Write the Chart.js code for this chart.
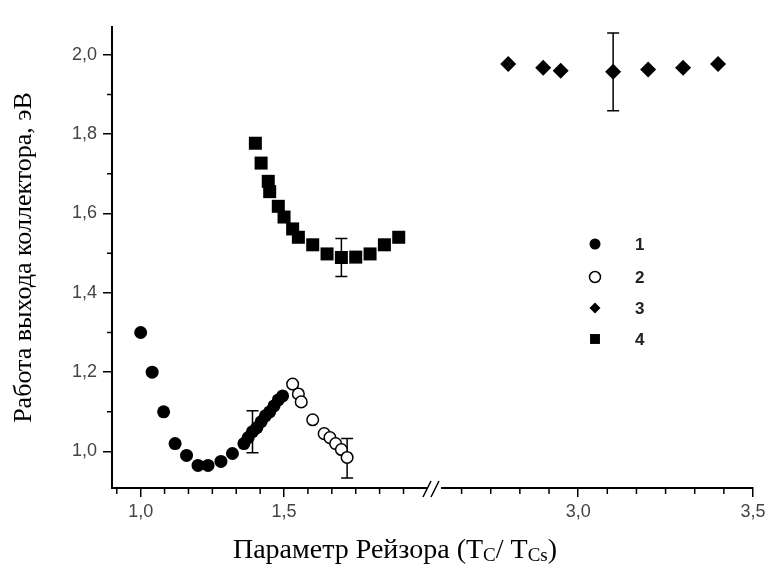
<!DOCTYPE html>
<html>
<head>
<meta charset="utf-8">
<script src="https://cdn.jsdelivr.net/npm/chart.js@4.4.1/dist/chart.umd.min.js"></script>
<style>
  html, body { margin: 0; padding: 0; background: #fff; }
  #wrap { width: 771px; height: 564px; }
</style>
</head>
<body>
<div id="wrap"><canvas id="workChart" width="771" height="564"></canvas></div>
<script>
// 1 - filled circles
const s1X = [1.00, 1.04, 1.08, 1.12, 1.16, 1.20, 1.235, 1.28, 1.32, 1.36, 1.375, 1.39, 1.405, 1.42, 1.435, 1.45, 1.465, 1.48, 1.495];
const s1Y = [1.30, 1.20, 1.10, 1.02, 0.99, 0.965, 0.965, 0.975, 0.995, 1.02, 1.035, 1.05, 1.06, 1.075, 1.09, 1.10, 1.115, 1.13, 1.14];
// 2 - open circles
const s2X = [1.53, 1.55, 1.56, 1.60, 1.64, 1.66, 1.68, 1.70, 1.72];
const s2Y = [1.17, 1.145, 1.125, 1.08, 1.045, 1.035, 1.02, 1.005, 0.985];
// 3 - diamonds (right part of the axis)
const s3X = [2.80, 2.90, 2.95, 3.10, 3.20, 3.30, 3.40];
const s3Y = [1.977, 1.967, 1.96, 1.957, 1.963, 1.967, 1.977];
// 4 - squares
const s4X = [1.40, 1.42, 1.445, 1.45, 1.48, 1.50, 1.53, 1.55, 1.60, 1.65, 1.70, 1.75, 1.80, 1.85, 1.90];
const s4Y = [1.777, 1.727, 1.681, 1.655, 1.618, 1.591, 1.561, 1.540, 1.521, 1.498, 1.489, 1.490, 1.498, 1.521, 1.540];

// error bars: dataset index, x, y, half size
const errSeries = [0, 1, 2, 3];
const errX = [1.39, 1.72, 3.10, 1.70];
const errY = [1.05, 0.983, 1.957, 1.489];
const errSize = [0.053, 0.05, 0.098, 0.048];

const seriesLabels = ['1', '2', '3', '4'];

const yMajor = [1.0, 1.2, 1.4, 1.6, 1.8, 2.0];
const yMinor = [1.1, 1.3, 1.5, 1.7, 1.9];
const xLeftMajor = [1.0, 1.5];
const xLeftMinor = [0.9167, 1.0833, 1.1667, 1.25, 1.3333, 1.4167, 1.5833, 1.6667, 1.75, 1.8333, 1.9167];
const xRightMajor = [3.0, 3.5];
const xRightMinor = [2.6667, 2.75, 2.8333, 2.9167, 3.0833, 3.1667, 3.25, 3.3333, 3.4167];

const toPoints = (xs, ys) => xs.map((x, i) => ({ x: x, y: ys[i] }));
const comma = v => Number(v).toFixed(1).replace('.', ',');

const tickFont = { family: 'Liberation Sans', size: 18 };

const errorBarPlugin = {
    id: 'errorBars',
    beforeDatasetsDraw(chart) {
        const ctx = chart.ctx;
        ctx.save();
        ctx.strokeStyle = '#000';
        ctx.lineWidth = 1.5;
        errSeries.forEach((di, i) => {
            const ds = chart.data.datasets[di];
            const xs = chart.scales[ds.xAxisID];
            const ys = chart.scales.y;
            const px = xs.getPixelForValue(errX[i]);
            const top = ys.getPixelForValue(errY[i] + errSize[i]);
            const bot = ys.getPixelForValue(errY[i] - errSize[i]);
            ctx.beginPath();
            ctx.moveTo(px, top); ctx.lineTo(px, bot);
            ctx.moveTo(px - 6, top); ctx.lineTo(px + 6, top);
            ctx.moveTo(px - 6, bot); ctx.lineTo(px + 6, bot);
            ctx.stroke();
        });
        ctx.restore();
    }
};

const decorPlugin = {
    id: 'decor',
    afterDraw(chart) {
        const ctx = chart.ctx;
        const area = chart.chartArea;
        const sx1 = chart.scales.x1, sx2 = chart.scales.x2, sy = chart.scales.y;
        ctx.save();
        ctx.strokeStyle = '#000';
        ctx.lineWidth = 1.5;
        // minor ticks
        ctx.beginPath();
        yMinor.forEach(v => {
            const p = sy.getPixelForValue(v);
            ctx.moveTo(area.left - 5, p); ctx.lineTo(area.left, p);
        });
        xLeftMinor.forEach(v => {
            const p = sx1.getPixelForValue(v);
            ctx.moveTo(p, area.bottom); ctx.lineTo(p, area.bottom + 6);
        });
        xRightMinor.forEach(v => {
            const p = sx2.getPixelForValue(v);
            ctx.moveTo(p, area.bottom); ctx.lineTo(p, area.bottom + 6);
        });
        ctx.stroke();

        // axis break
        const bx = sx2.left;
        ctx.fillStyle = '#fff';
        ctx.fillRect(bx - 8, area.bottom - 3, 14, 6);
        ctx.beginPath();
        ctx.moveTo(bx - 12, area.bottom + 9); ctx.lineTo(bx - 4, area.bottom - 7);
        ctx.moveTo(bx - 4, area.bottom + 9); ctx.lineTo(bx + 4, area.bottom - 7);
        ctx.stroke();

        // x axis title with subscripts
        const parts = [['Параметр Рейзора (T', 0], ['C', 1], ['/ T', 0], ['Cs', 1], [')', 0]];
        const big = '28px "Liberation Serif"', small = '19px "Liberation Serif"';
        let total = 0;
        parts.forEach(p => { ctx.font = p[1] ? small : big; total += ctx.measureText(p[0]).width; });
        let tx = 395 - total / 2;
        const base = 558;
        ctx.fillStyle = '#000';
        ctx.textBaseline = 'alphabetic';
        ctx.textAlign = 'left';
        parts.forEach(p => {
            ctx.font = p[1] ? small : big;
            ctx.fillText(p[0], tx, base + (p[1] ? 3 : 0));
            tx += ctx.measureText(p[0]).width;
        });

        // legend
        const rows = [244, 277, 308, 339];
        chart.data.datasets.forEach((ds, i) => {
            const opts = {
                pointStyle: ds.pointStyle,
                radius: ds.pointStyle === 'rect' ? 7 : 5.5,
                rotation: 0,
                borderWidth: ds.borderWidth
            };
            ctx.fillStyle = ds.backgroundColor;
            ctx.strokeStyle = ds.borderColor;
            ctx.lineWidth = ds.borderWidth;
            Chart.helpers.drawPoint(ctx, opts, 595, rows[i]);
            ctx.fillStyle = '#222';
            ctx.font = 'bold 17px "Liberation Sans"';
            ctx.textBaseline = 'middle';
            ctx.fillText(ds.label, 635, rows[i] + 1);
        });
        ctx.restore();
    }
};

const config = {
    type: 'scatter',
    data: {
        datasets: [
            {
                label: seriesLabels[0], data: toPoints(s1X, s1Y), xAxisID: 'x1', order: 2,
                pointStyle: 'circle', pointRadius: 6.5, backgroundColor: '#000', borderColor: '#000', borderWidth: 0
            },
            {
                label: seriesLabels[1], data: toPoints(s2X, s2Y), xAxisID: 'x1', order: 1,
                pointStyle: 'circle', pointRadius: 5.8, backgroundColor: '#fff', borderColor: '#000', borderWidth: 1.5
            },
            {
                label: seriesLabels[2], data: toPoints(s3X, s3Y), xAxisID: 'x2', order: 3,
                pointStyle: 'rectRot', pointRadius: 8, backgroundColor: '#000', borderColor: '#000', borderWidth: 0
            },
            {
                label: seriesLabels[3], data: toPoints(s4X, s4Y), xAxisID: 'x1', order: 4,
                pointStyle: 'rect', pointRadius: 9.2, backgroundColor: '#000', borderColor: '#000', borderWidth: 0
            }
        ]
    },
    options: {
        responsive: false,
        animation: false,
        events: [],
        layout: { padding: { top: 27, right: 18, bottom: 36, left: 0 } },
        plugins: {
            legend: { display: false },
            tooltip: { enabled: false }
        },
        scales: {
            x1: {
                type: 'linear', position: 'bottom', stack: 'xb', stackWeight: 323,
                min: 0.9, max: 2.0265,
                afterBuildTicks: s => { s.ticks = xLeftMajor.map(v => ({ value: v })); },
                afterFit: s => { s.height = 40; },
                grid: { drawOnChartArea: false, tickLength: 9, color: '#000', lineWidth: 1.5 },
                border: { color: '#000', width: 2 },
                ticks: { callback: v => comma(v), color: '#444', font: tickFont, padding: 4, maxRotation: 0, autoSkip: false }
            },
            x2: {
                type: 'linear', position: 'bottom', stack: 'xb', stackWeight: 318,
                min: 2.5906, max: 3.5,
                afterBuildTicks: s => { s.ticks = xRightMajor.map(v => ({ value: v })); },
                afterFit: s => { s.height = 40; },
                grid: { drawOnChartArea: false, tickLength: 9, color: '#000', lineWidth: 1.5 },
                border: { color: '#000', width: 2 },
                ticks: { callback: v => comma(v), color: '#444', font: tickFont, padding: 4, maxRotation: 0, autoSkip: false }
            },
            y: {
                type: 'linear', position: 'left',
                min: 0.908, max: 2.07,
                afterBuildTicks: s => { s.ticks = yMajor.map(v => ({ value: v })); },
                afterFit: s => { s.width = 112; },
                grid: { drawOnChartArea: false, tickLength: 9, color: '#000', lineWidth: 1.5 },
                border: { color: '#000', width: 2 },
                ticks: { callback: v => comma(v), color: '#444', font: tickFont, padding: 6 },
                title: {
                    display: true,
                    text: 'Работа выхода коллектора, эВ',
                    color: '#000',
                    font: { family: 'Liberation Serif', size: 26 },
                    padding: { top: 9, bottom: 0 }
                }
            }
        }
    },
    plugins: [errorBarPlugin, decorPlugin]
};

const workChart = new Chart(document.getElementById('workChart').getContext('2d'), config);
</script>
</body>
</html>
